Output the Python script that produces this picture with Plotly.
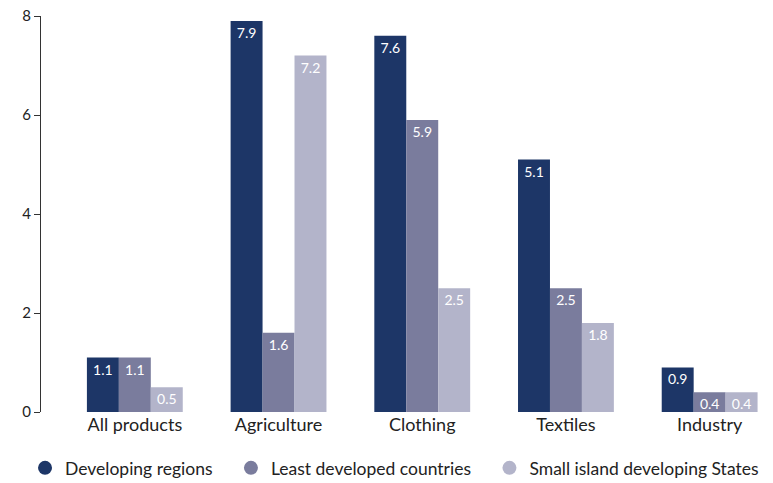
import plotly.graph_objects as go

categories = ["All products", "Agriculture", "Clothing", "Textiles", "Industry"]
developingRegions = [1.1, 7.9, 7.6, 5.1, 0.9]
leastDeveloped = [1.1, 1.6, 5.9, 2.5, 0.4]
smallIsland = [0.5, 7.2, 2.5, 1.8, 0.4]

seriesNames = ["Developing regions", "Least developed countries", "Small island developing States"]
colors = ["#1d3667", "#7a7c9d", "#b3b4ca"]

fig = go.Figure()

pad = "\u00a0" * 3
for i, (name, vals, col) in enumerate(zip(seriesNames, [developingRegions, leastDeveloped, smallIsland], colors)):
    # bars
    fig.add_trace(go.Bar(
        x=categories, y=vals, name=name,
        marker=dict(color=col, line=dict(width=0)),
        text=[f"{v:.1f}" for v in vals],
        textposition="inside", insidetextanchor="end",
        textangle=0,
        textfont=dict(color="white", size=14),
        showlegend=False,
    ))
    # legend entry with round marker
    fig.add_trace(go.Scatter(
        x=[None], y=[None], mode="markers",
        name=name + (pad if i < 2 else ""),
        marker=dict(color=col, size=14, symbol="circle"),
    ))

fig.update_layout(
    width=773, height=483,
    margin=dict(l=41, r=3, t=16, b=71, autoexpand=False),
    plot_bgcolor="white", paper_bgcolor="white",
    font=dict(family="Lato", size=17, color="#222222"),
    barmode="group", bargap=0.333, bargroupgap=0,
    uniformtext=dict(minsize=12, mode="show"),
    legend=dict(orientation="h", x=-0.0219, xanchor="left",
                y=-0.1414, yanchor="middle",
                font=dict(size=17.5), itemwidth=30, tracegroupgap=0),
)
fig.update_xaxes(range=[-0.653, 4.42], showline=False, ticks="", showgrid=False,
                 tickfont=dict(size=18), automargin=False)
fig.update_yaxes(range=[0, 8], tickvals=[0, 2, 4, 6, 8], showline=True, linecolor="#333333",
                 linewidth=1, ticks="outside", ticklen=6, tickcolor="#333333",
                 showgrid=False, zeroline=False, tickfont=dict(size=15), automargin=False)

# drop the default 8px body margin so the figure fills the window
fig.write_html("out.html", config={"displayModeBar": False},
               post_script="document.body.style.margin='0px';")
